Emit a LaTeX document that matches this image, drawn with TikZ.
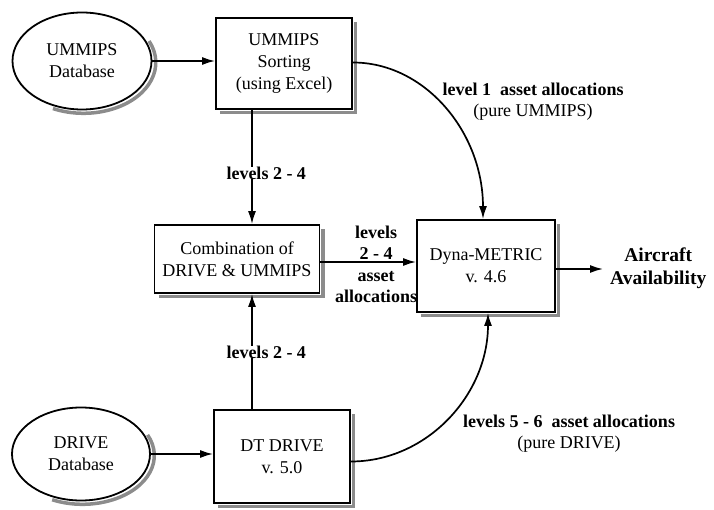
\documentclass[tikz,border=0pt]{standalone}
\usepackage{fontspec}
\setmainfont{Liberation Serif}
\usetikzlibrary{arrows.meta,shapes.geometric}
\definecolor{shadowgray}{RGB}{140,140,140}
\begin{document}
\begin{tikzpicture}[x=1pt,y=-1pt,
  shband/.style={draw=shadowgray,line width=3.5pt},
  box/.style={draw,line width=1.8pt,fill=white,align=center,inner sep=2pt,
    font=\fontsize{18}{22}\selectfont},
  db/.style={draw,ellipse,line width=1.8pt,fill=white,align=center,inner sep=0pt,
    font=\fontsize{18}{22}\selectfont},
  arr/.style={line width=1.7pt,-{Latex[length=13pt,width=8pt]}},
  lbl/.style={align=center,font=\fontsize{18}{21}\selectfont},
  blbl/.style={align=center,font=\bfseries\fontsize{18}{21.5}\selectfont}]
\useasboundingbox (0,0) rectangle (714,510);
% nodes
\node[db,minimum width=139pt,minimum height=97pt] (udb) at (82,61) {UMMIPS\\Database};
\node[box,minimum width=136pt,minimum height=91pt] (sort) at (284,63.5) {UMMIPS\\Sorting\\(using Excel)};
\node[box,minimum width=165pt,minimum height=68pt] (comb) at (237,259) {Combination of\\DRIVE \& UMMIPS};
\node[db,minimum width=138pt,minimum height=93pt] (ddb) at (81,454) {DRIVE\\Database};
\node[box,minimum width=136pt,minimum height=93pt] (dt) at (282,456.5) {DT DRIVE\\v. 5.0};
\node[box,minimum width=138pt,minimum height=92pt] (dyna) at (486,266) {Dyna-METRIC\\v. 4.6};
\node[align=center,font=\bfseries\fontsize{19.5}{23}\selectfont,anchor=west,inner sep=0pt] (out) at (610,268.5) {Aircraft\\Availability};
\coordinate (ot) at (603,269);
% shadow bands
\foreach \n in {sort,comb,dt,dyna}{
  \draw[shband] ([shift={(2.8,5)}]\n.north east) -- ([shift={(2.8,2.8)}]\n.south east) -- ([shift={(5,2.8)}]\n.south west);
}
\draw[shband] ([shift={(1.5,1.5)}]udb.center) ++(-25:72.3 and 50.8) arc[start angle=-25,end angle=115,x radius=72.3,y radius=50.8];
\draw[shband] ([shift={(1.5,1.5)}]ddb.center) ++(-25:71.8 and 48.8) arc[start angle=-25,end angle=115,x radius=71.8,y radius=48.8];
% connectors
\draw[arr] (udb.east) -- (sort.west |- udb.east);
\draw[arr] (ddb.east) -- (dt.west |- ddb.east);
\draw[arr] ([xshift=-32pt]sort.south) -- ([xshift=-32pt]sort.south |- comb.north);
\draw[arr] ([xshift=-30pt]dt.north) -- ([xshift=-30pt]dt.north |- comb.south);
\draw[arr] ([yshift=-3pt]comb.east) -- ([yshift=-3pt]comb.east -| dyna.west);
\draw[arr] ([yshift=1pt]sort.east) .. controls +(72,0) and +(0,-87) .. ([xshift=-3pt]dyna.north);
\draw[arr] ([yshift=-5pt]dt.east) .. controls +(76,0) and +(0,82) .. ([xshift=2pt]dyna.south);
\draw[arr] (dyna.east |- ot) -- (ot);
% labels
\node[fill=white,inner sep=0pt,blbl] (l1) at (247.5,173) {levels\rlap{ 2 - 4}};
\node[fill=white,inner sep=0pt,blbl] (l2) at (247.5,352) {levels\rlap{ 2 - 4}};
\node[blbl] (l3) at (376,264.5) {levels\\2 - 4\\asset\\allocations};
\node[lbl] (l4) at (533,102) {\textbf{level 1\ \ asset allocations}\\(pure UMMIPS)};
\node[lbl] (l5) at (569,434) {\textbf{levels 5 - 6\ \ asset allocations}\\(pure DRIVE)};
\end{tikzpicture}
\end{document}
